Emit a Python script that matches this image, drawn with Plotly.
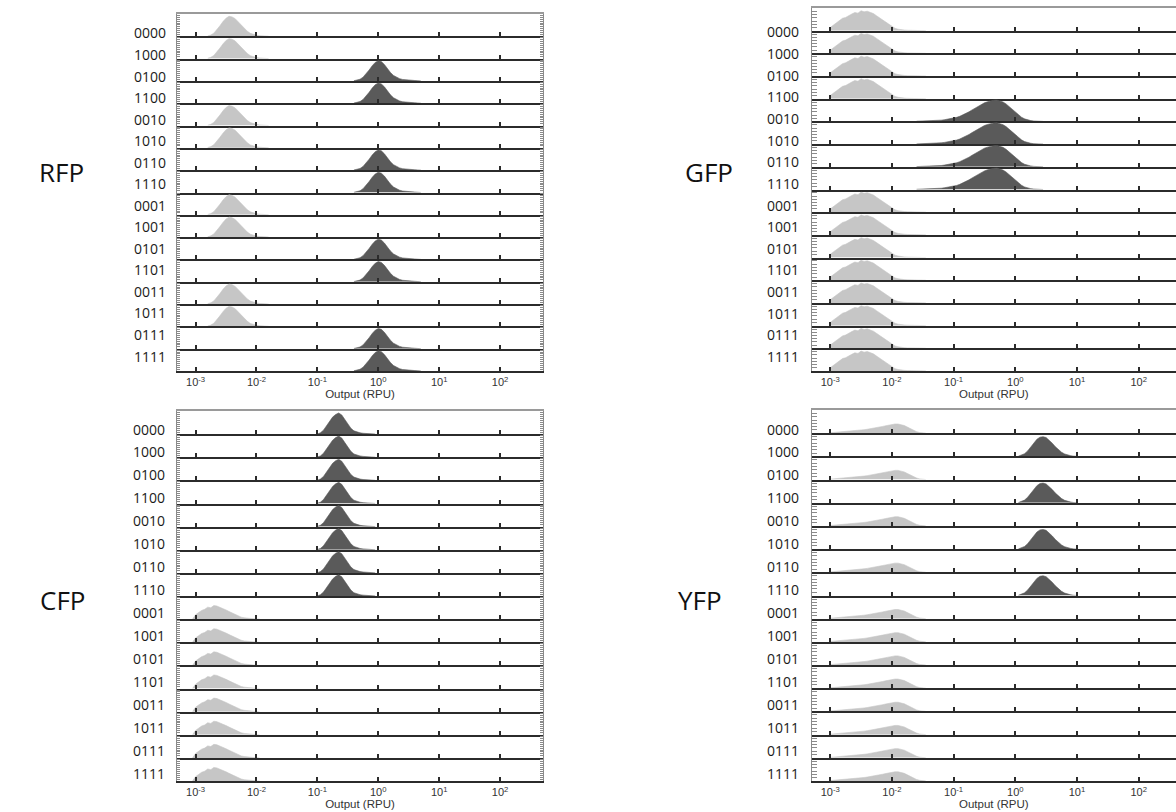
import plotly.graph_objects as go

W, H = 1176, 812

# ---------------- data ----------------
row_labels = ["0000", "1000", "0100", "1100", "0010", "1010", "0110", "1110",
              "0001", "1001", "0101", "1101", "0011", "1011", "0111", "1111"]

# 1 = "on" (dark histogram), 0 = "off" (light histogram)
rfp_state = [0, 0, 1, 1, 0, 0, 1, 1, 0, 0, 1, 1, 0, 0, 1, 1]
gfp_state = [0, 0, 0, 0, 1, 1, 1, 1, 0, 0, 0, 0, 0, 0, 0, 0]
cfp_state = [1, 1, 1, 1, 1, 1, 1, 1, 0, 0, 0, 0, 0, 0, 0, 0]
yfp_state = [0, 1, 0, 1, 0, 1, 0, 1, 0, 0, 0, 0, 0, 0, 0, 0]

bin_step = 0.05  # log10 width of the histogram bins

# histogram heights (fraction of row height), first bin at log10 = *_start
rfp_off_start = -2.80
rfp_off = [0.02, 0.06, 0.15, 0.30, 0.50, 0.70, 0.86, 0.95, 0.92, 0.84, 0.70, 0.53,
           0.37, 0.24, 0.14, 0.08, 0.05, 0.03, 0.02, 0.01, 0.0]
rfp_on_start = -0.40
rfp_on = [0.01, 0.03, 0.08, 0.18, 0.33, 0.52, 0.72, 0.88, 0.96, 0.92, 0.78, 0.58,
          0.40, 0.26, 0.17, 0.11, 0.07, 0.05, 0.04, 0.03, 0.02, 0.01, 0.0]

gfp_off_start = -3.00
gfp_off = [0.15, 0.25, 0.35, 0.45, 0.58, 0.62, 0.72, 0.78, 0.85, 0.82, 0.93, 0.88,
           0.91, 0.85, 0.80, 0.70, 0.60, 0.48, 0.38, 0.27, 0.18, 0.11, 0.07, 0.04,
           0.03, 0.02, 0.015, 0.012, 0.01, 0.008, 0.005, 0.0]
gfp_on_start = -1.60
gfp_on = [0.01, 0.012, 0.015, 0.02, 0.025, 0.03, 0.04, 0.05, 0.06, 0.08, 0.10, 0.12,
          0.15, 0.19, 0.24, 0.30, 0.37, 0.45, 0.54, 0.63, 0.72, 0.80, 0.87, 0.92,
          0.96, 0.99, 1.00, 0.97, 0.91, 0.82, 0.70, 0.56, 0.42, 0.30, 0.20, 0.12,
          0.07, 0.04, 0.02, 0.01, 0.005, 0.0]

cfp_off_start = -3.05
cfp_off = [0.0, 0.20, 0.30, 0.40, 0.45, 0.55, 0.52, 0.62, 0.60, 0.55, 0.50, 0.42,
           0.35, 0.28, 0.20, 0.14, 0.09, 0.06, 0.04, 0.02, 0.01, 0.005, 0.0]
cfp_on_start = -1.00
cfp_on = [0.01, 0.06, 0.18, 0.38, 0.60, 0.78, 0.90, 0.97, 0.88, 0.68, 0.45, 0.27,
          0.15, 0.09, 0.06, 0.04, 0.03, 0.02, 0.01, 0.0]

yfp_off_start = -3.00
yfp_off = [0.02, 0.03, 0.04, 0.05, 0.06, 0.07, 0.08, 0.095, 0.11, 0.125, 0.14, 0.16,
           0.18, 0.20, 0.22, 0.25, 0.28, 0.31, 0.34, 0.37, 0.40, 0.42, 0.42, 0.40,
           0.35, 0.28, 0.20, 0.12, 0.07, 0.03, 0.01, 0.0]
yfp_on_start = 0.05
yfp_on = [0.01, 0.05, 0.12, 0.25, 0.42, 0.62, 0.78, 0.88, 0.90, 0.86, 0.75, 0.60,
          0.44, 0.30, 0.19, 0.11, 0.06, 0.03, 0.01, 0.0]

tick_exponents = [-3, -2, -1, 0, 1, 2]
tick_text = ["10<sup>-3</sup>", "10<sup>-2</sup>", "10<sup>-1</sup>",
             "10<sup>0</sup>", "10<sup>1</sup>", "10<sup>2</sup>"]
x_title = "Output (RPU)"

OFF_COLOR = "#c6c6c6"
ON_COLOR = "#5a5a5a"

# ---------------- layout of the four panels (pixels) ----------------
panels = [
    dict(name="RFP", state=rfp_state,
         shapes={0: (rfp_off_start, rfp_off), 1: (rfp_on_start, rfp_on)},
         x0=177.3, x1=542.7, xr=(-3.3, 2.7), top=14, bottom=371,
         lab_right=168, lab_y0=33, lab_y1=356, big=(61, 172), mirror=True,
         ydt=0.09, yticklen=3),
    dict(name="GFP", state=gfp_state,
         shapes={0: (gfp_off_start, gfp_off), 1: (gfp_on_start, gfp_on)},
         x0=811.7, x1=1176, xr=(-3.3, 2.605), top=8, bottom=371,
         lab_right=801, lab_y0=32, lab_y1=356.5, big=(709, 172), mirror=False,
         ydt=0.15, yticklen=5),
    dict(name="CFP", state=cfp_state,
         shapes={0: (cfp_off_start, cfp_off), 1: (cfp_on_start, cfp_on)},
         x0=177.3, x1=542.7, xr=(-3.3, 2.7), top=411, bottom=781,
         lab_right=167, lab_y0=429, lab_y1=773, big=(62, 600), mirror=True,
         ydt=0.09, yticklen=3),
    dict(name="YFP", state=yfp_state,
         shapes={0: (yfp_off_start, yfp_off), 1: (yfp_on_start, yfp_on)},
         x0=811.7, x1=1176, xr=(-3.3, 2.605), top=410, bottom=781,
         lab_right=801, lab_y0=429, lab_y1=773, big=(700, 600), mirror=False,
         ydt=0.15, yticklen=5),
]

fig = go.Figure()
layout = dict(width=W, height=H, margin=dict(l=0, r=0, t=0, b=0),
              paper_bgcolor="white", plot_bgcolor="white", showlegend=False)
annotations = []

n_rows = len(row_labels)
idx = 0
for p in panels:
    row_h = (p["bottom"] - p["top"]) / n_rows
    lab_step = (p["lab_y1"] - p["lab_y0"]) / (n_rows - 1)
    for r in range(n_rows):
        idx += 1
        xs = "x" if idx == 1 else f"x{idx}"
        ys = "y" if idx == 1 else f"y{idx}"
        xk = "xaxis" if idx == 1 else f"xaxis{idx}"
        yk = "yaxis" if idx == 1 else f"yaxis{idx}"
        st = p["state"][r]
        start, heights = p["shapes"][st]
        xv = [10 ** (start + k * bin_step) for k in range(len(heights))]
        col = ON_COLOR if st == 1 else OFF_COLOR
        fig.add_trace(go.Scatter(
            x=xv, y=heights, mode="lines", fill="tozeroy",
            line=dict(color=col, width=0.6), fillcolor=col,
            xaxis=xs, yaxis=ys, hoverinfo="skip"))

        rt = p["top"] + r * row_h
        rb = p["top"] + (r + 1) * row_h
        last = (r == n_rows - 1)
        xa = dict(type="log", range=list(p["xr"]),
                  domain=[p["x0"] / W, p["x1"] / W], anchor=ys,
                  showline=True, linecolor="#2b2b2b", linewidth=2,
                  ticks="inside", ticklen=4, tickwidth=1.5, tickcolor="#2b2b2b",
                  tickmode="array",
                  tickvals=[10 ** e for e in tick_exponents], ticktext=tick_text,
                  showticklabels=last, showgrid=False, zeroline=False,
                  tickfont=dict(family="Liberation Sans, Arial", size=11, color="#333"))
        if last:
            xa["title"] = dict(text=x_title, standoff=3,
                               font=dict(family="Liberation Sans, Arial", size=11.5, color="#333"))
        layout[xk] = xa
        layout[yk] = dict(range=[0, 1.06], domain=[1 - rb / H, 1 - rt / H],
                          anchor=xs, showline=True, linecolor="#8a8a8a", linewidth=1,
                          ticks="inside", dtick=p["ydt"], ticklen=p["yticklen"],
                          tickwidth=1, tickcolor="#8a8a8a",
                          showticklabels=False, showgrid=False, zeroline=False,
                          mirror="ticks" if p["mirror"] else False)

        annotations.append(dict(
            text=row_labels[r], x=p["lab_right"] / W, y=1 - (p["lab_y0"] + r * lab_step) / H,
            xref="paper", yref="paper", xanchor="right", yanchor="middle",
            showarrow=False, font=dict(family="Open Sans", size=14, color="#1a1a1a")))

    # top border of the panel (lighter line), on an overlaying axis
    first = idx - n_rows + 1
    base_x = "x" if first == 1 else f"x{first}"
    base_y = "y" if first == 1 else f"y{first}"
    top_id = 64 + panels.index(p) + 1
    layout[f"xaxis{top_id}"] = dict(type="log", range=list(p["xr"]), overlaying=base_x,
                                    anchor=base_y, side="top", showline=True,
                                    linecolor="#9a9a9a", linewidth=1.5, ticks="",
                                    showticklabels=False, showgrid=False, zeroline=False)
    fig.add_trace(go.Scatter(x=[], y=[], xaxis=f"x{top_id}", yaxis=base_y,
                             hoverinfo="skip", mode="lines"))

    annotations.append(dict(
        text=p["name"], x=p["big"][0] / W, y=1 - p["big"][1] / H,
        xref="paper", yref="paper", xanchor="center", yanchor="middle",
        showarrow=False, font=dict(family="Open Sans", size=26, color="#111")))

layout["annotations"] = annotations
fig.update_layout(**layout)

fig.write_html("out.html", config={"displayModeBar": False},
               post_script="document.body.style.margin='0px';")
